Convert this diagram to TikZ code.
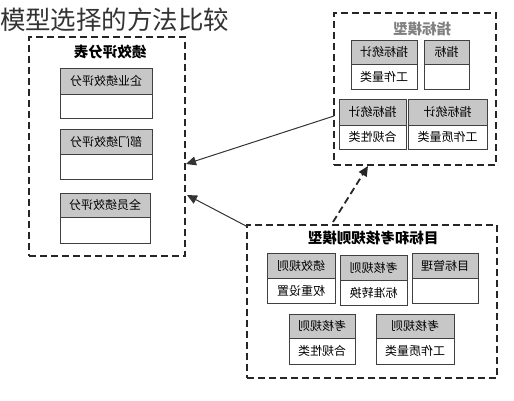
\documentclass[tikz,border=0pt]{standalone}
\usepackage{fontspec}
\usepackage{graphicx}
\usetikzlibrary{arrows.meta}
\newfontfamily\cjk{Noto Sans CJK SC}
\tikzset{
  every node/.style={inner sep=0pt, outer sep=0pt, font=\cjk\fontsize{12pt}{12pt}\selectfont},
  hdr/.style={draw=black!75, line width=1pt, fill=black!22, anchor=north west},
  bdy/.style={draw=black!75, line width=1pt, fill=white, anchor=north},
  dbox/.style={draw=black!85, line width=1.8pt, dash pattern=on 7pt off 4pt, anchor=north west},
  btitle/.style={font=\cjk\bfseries\fontsize{14.5pt}{14.5pt}\selectfont},
  arr/.style={draw=black!80, line width=1pt, -{Triangle[length=10pt,width=9pt]}},
  darr/.style={draw=black!85, line width=1.8pt, dash pattern=on 7pt off 4pt, -{Triangle[length=10pt,width=9pt]}}
}
\newcommand\cbox[8]{%
  \node[hdr, minimum width=#4pt, minimum height=#5pt] (#1h) at (#2,#3) {\reflectbox{#7}};
  \node[bdy, minimum width=#4pt, minimum height=#6pt] (#1b) at (#1h.south) {\reflectbox{#8}};
}
\begin{document}
\begin{tikzpicture}[x=1pt,y=-1pt]
\useasboundingbox (0,0) rectangle (514,400);
% title
\node[anchor=west, text=black!80, font=\cjk\fontsize{25.5pt}{25.5pt}\selectfont] (title) at (0,20) {模型选择的方法比较};
% left box
\node[dbox, minimum width=156pt, minimum height=219pt] (L) at (29,37) {};
\node[btitle] (Lt) at (110,52) {\reflectbox{绩效评分表}};
\cbox{l1}{60}{68}{92}{26}{24}{企业绩效评分}{}
\cbox{l2}{60}{129}{92}{25}{25}{部门绩效评分}{}
\cbox{l3}{60}{193}{90}{24}{26}{全员绩效评分}{}
% top right box
\node[dbox, minimum width=162pt, minimum height=152pt] (T) at (334,13) {};
\node[btitle, text=black!50] (Tt) at (422,29) {\reflectbox{指标模型}};
\cbox{t1}{351}{40}{66}{24}{25}{指标统计}{工作量类}
\cbox{t2}{424}{40}{45}{24}{25}{指标}{}
\cbox{t3}{339}{99}{67}{26}{24}{指标统计}{合规性类}
\cbox{t4}{408}{99}{79}{26}{24}{指标统计}{工作质量类}
% bottom right box
\node[dbox, minimum width=250pt, minimum height=153pt] (B) at (247,225) {};
\node[btitle] (Bt) at (373,238) {\reflectbox{目标和考核规则模型}};
\cbox{b1}{267}{253}{68}{25}{25}{绩效规则}{权重设置}
\cbox{b2}{340}{255}{67}{25}{25}{考核规则}{标准转换}
\cbox{b3}{412}{253}{66}{25}{25}{目标管理}{}
\cbox{b4}{289}{314}{66}{24}{26}{考核规则}{合规性类}
\cbox{b5}{376}{314}{78}{24}{26}{考核规则}{工作质量类}
% connectors
\coordinate (a1s) at (334,116);
\coordinate (a1e) at (186,164);
\coordinate (a2s) at (248,227);
\coordinate (a2e) at (187,195);
\coordinate (a3s) at (333,222);
\coordinate (a3e) at (368,166);
\draw[arr] (a1s) -- (a1e);
\draw[arr] (a2s) -- (a2e);
\draw[darr] (a3s) -- (a3e);
\end{tikzpicture}
\end{document}
